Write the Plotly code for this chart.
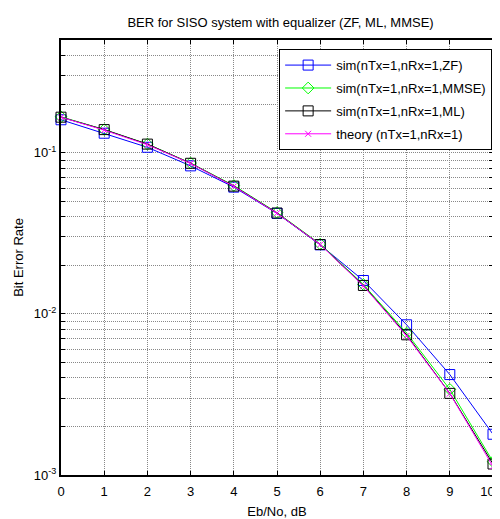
import plotly.graph_objects as go
import numpy as np

ebno_db = [0, 1, 2, 3, 4, 5, 6, 7, 8, 9, 10]
ber_zf = [0.160, 0.132, 0.108, 0.0828, 0.0611, 0.0420, 0.0268, 0.0161, 0.00855, 0.00420, 0.00179]
ber_mmse = [0.167, 0.139, 0.113, 0.0862, 0.0625, 0.0425, 0.0271, 0.0152, 0.0076, 0.0034, 0.00121]
ber_ml = [0.166, 0.139, 0.113, 0.0859, 0.0620, 0.0422, 0.0269, 0.0150, 0.00741, 0.00321, 0.00117]
ber_theory = [0.166, 0.138, 0.112, 0.0857, 0.0618, 0.0421, 0.0269, 0.0149, 0.0073, 0.0032, 0.00113]

names = ["sim(nTx=1,nRx=1,ZF)", "sim(nTx=1,nRx=1,MMSE)", "sim(nTx=1,nRx=1,ML)", "theory (nTx=1,nRx=1)"]
title_text = "BER for SISO system with equalizer (ZF, ML, MMSE)"
x_label = "Eb/No, dB"
y_label = "Bit Error Rate"

FONT = "Liberation Sans, Arial, sans-serif"
FS = 13

# page body has an 8px default margin; figure is sized to fill the rest
W, H = 492, 511

fig = go.Figure()
styles = [
    (ber_zf, "#0000FF", "square-open", 10),
    (ber_mmse, "#00FF00", "diamond-open", 9),
    (ber_ml, "#000000", "square-open", 10),
    (ber_theory, "#FF00FF", "x-thin-open", 6),
]
for i, ((vals, col, sym, sz), nm) in enumerate(zip(styles, names)):
    fig.add_trace(go.Scatter(
        x=ebno_db, y=vals, name=nm, mode="lines+markers",
        legendgroup=f"g{i}", cliponaxis=False,
        line=dict(color=col, width=1),
        marker=dict(symbol=sym, size=sz, color=col, line=dict(color=col, width=1)),
    ))

# log-axis ticks: every 1..9 x decade, labels only on decades
ytickvals = []
yticktext = []
for e in [-3, -2, -1]:
    for m in range(1, 10):
        v = m * 10.0 ** e
        if v > 0.5 + 1e-9:
            continue
        ytickvals.append(v)
        yticktext.append(f"10<sup>{e}</sup>" if m == 1 else "")

# last x label padded so it stays inside the page edge
xticktext = [str(v) for v in ebno_db]
xticktext[-1] = xticktext[-1] + "\u00a0\u00a0\u00a0"

fig.update_layout(
    width=W, height=H,
    margin=dict(l=53, r=7, t=32, b=44),
    paper_bgcolor="white", plot_bgcolor="white",
    font=dict(family=FONT, size=FS, color="black"),
    title=dict(text=title_text, x=0.554, xanchor="center", y=1 - 14 / H, yanchor="middle",
               font=dict(family=FONT, size=FS, color="black")),
    showlegend=True,
    legend=dict(x=0.998, xanchor="right", y=0.979, yanchor="top",
                bgcolor="white", bordercolor="black", borderwidth=1,
                font=dict(family=FONT, size=FS, color="black"),
                itemwidth=46, tracegroupgap=3),
)
fig.update_xaxes(
    range=[0, 10], tickvals=ebno_db, ticktext=xticktext,
    showline=True, linecolor="black", linewidth=2, mirror="ticks",
    ticks="inside", ticklen=4, tickcolor="black",
    ticklabeloverflow="allow", ticklabelstandoff=3,
    showgrid=True, gridcolor="#888888", griddash="1px,1px", gridwidth=1,
    zeroline=False, automargin=False,
    title=dict(text=x_label, standoff=12, font=dict(family=FONT, size=FS)),
)
fig.update_yaxes(
    type="log", range=[-3, np.log10(0.5)],
    tickvals=ytickvals, ticktext=yticktext,
    showline=True, linecolor="black", linewidth=2, mirror="ticks",
    ticks="inside", ticklen=4, tickcolor="black",
    ticklabeloverflow="allow",
    showgrid=True, gridcolor="#888888", griddash="1px,1px", gridwidth=1,
    zeroline=False, automargin=False,
    title=dict(text=y_label, standoff=7, font=dict(family=FONT, size=FS)),
)

fig.write_html("out.html")
